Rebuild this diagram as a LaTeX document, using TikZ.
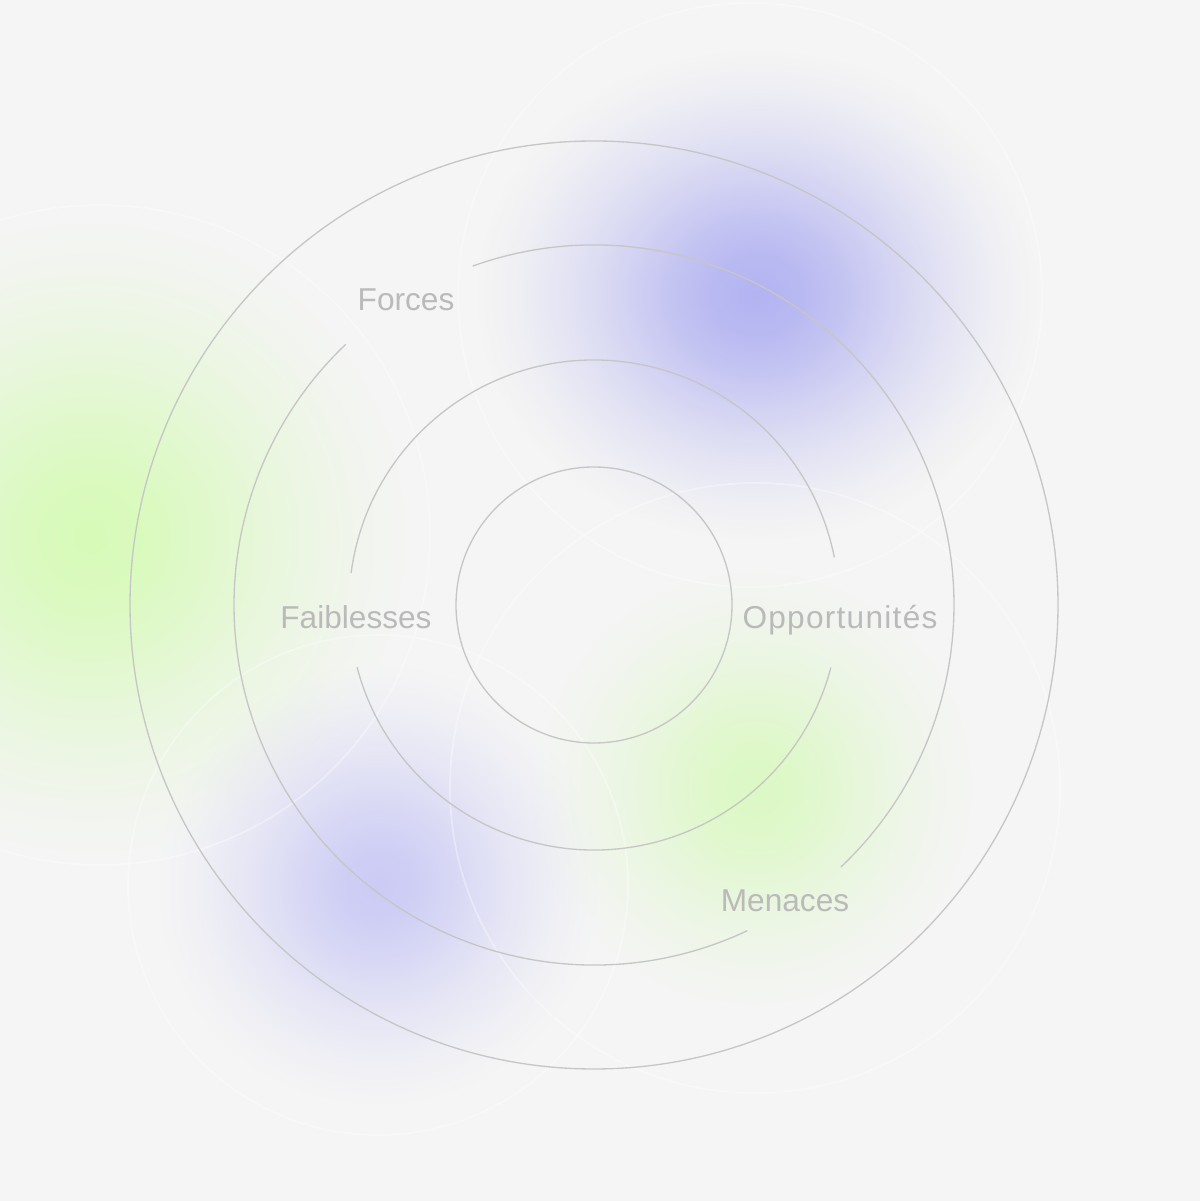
\documentclass[tikz,border=0pt]{standalone}
\usepackage{fontspec}
\setmainfont{Liberation Sans}
\usetikzlibrary{fadings}

\definecolor{bg}{HTML}{F5F5F5}
\definecolor{ringgray}{HTML}{C6C6C6}
\definecolor{labelgray}{HTML}{BABABA}
\definecolor{bluefog}{HTML}{B3B3F2}
\definecolor{bluefogb}{HTML}{CBCBF5}
\definecolor{limefog}{HTML}{D7FBB8}
\definecolor{limefogb}{HTML}{DCF9C4}

\pgfdeclareradialshading{blobshade}{\pgfpoint{0bp}{0bp}}{color(0bp)=(pgftransparent!0); color(4bp)=(pgftransparent!10); color(8bp)=(pgftransparent!28); color(12bp)=(pgftransparent!50); color(16bp)=(pgftransparent!70); color(20bp)=(pgftransparent!86); color(23bp)=(pgftransparent!96); color(25bp)=(pgftransparent!100); color(50bp)=(pgftransparent!100)}
\pgfdeclarefading{blobfade}{\pgfuseshading{blobshade}}

\begin{document}
\begin{tikzpicture}[x=0.02cm, y=0.02cm,
	ring/.style={ringgray, line width=0.75pt},
	glow/.style={white, line width=1pt, opacity=0.35},
	label/.style={labelgray, font=\fontsize{18}{20}\selectfont, anchor=base, inner sep=0pt}]
	\useasboundingbox (0,0) rectangle (1200,1201);
	\fill[bg] (0,0) rectangle (1200,1201);
	% blurred blobs
	\fill[bluefog, path fading=blobfade] (757,906) ellipse [x radius=280, y radius=245];
	\fill[limefog, path fading=blobfade] (90,664) circle (325);
	\fill[limefogb, path fading=blobfade] (755,413) circle (225);
	\fill[bluefogb, path fading=blobfade] (378,316) circle (220);
	\draw[glow] (750,906) circle (292);
	\draw[glow] (100,666) circle (330);
	\draw[glow] (378,316) circle (250);
	\draw[glow] (755,413) circle (305);
	% rings
	\coordinate (c) at (594,596);
	\draw[ring] (c) circle (464);
	\draw[ring] (c) circle (138);
	\draw[ring] (c) ++(109.7:360) arc[start angle=109.7, end angle=-46.7, radius=360];
	\draw[ring] (c) ++(-64.8:360) arc[start angle=-64.8, end angle=-226.4, radius=360];
	\draw[ring] (c) ++(172.5:245) arc[start angle=172.5, end angle=11.2, radius=245];
	\draw[ring] (c) ++(-14.8:245) arc[start angle=-14.8, end angle=-165.3, radius=245];
	% labels
	\node[label] (forces) at (406,890) {Forces};
	\node[label] (faiblesses) at (356,572) {Faiblesses};
	\node[label] (opportunites) at (840,572) {\addfontfeature{LetterSpace=4}Opportunités};
	\node[label] (menaces) at (785,289) {Menaces};
\end{tikzpicture}
\end{document}
